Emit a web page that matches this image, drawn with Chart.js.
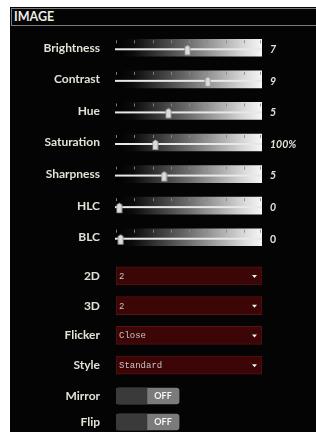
<!DOCTYPE html>
<html>
<head>
<meta charset="utf-8">
<script src="https://cdn.jsdelivr.net/npm/chart.js@4.4.0/dist/chart.umd.min.js"></script>
<style>
  html, body { margin: 0; padding: 0; background: #fff; overflow: hidden; }
  body { width: 316px; height: 432px; position: relative; }
  #panel { position: absolute; left: 10px; top: 7px; width: 306px; height: 425px; background: #040404; }
  #header {
    position: absolute; left: 11px; top: 8px; width: 320px; height: 18px; box-sizing: border-box;
    border: 1px solid #7c7c7c; color: #ecebe4; font: bold 12.5px Lato, sans-serif;
    line-height: 16px; padding-left: 2px;
  }
  canvas { position: absolute; left: 0; }
  #sliders { top: 27px; }
  #dropdowns { top: 261px; }
  #switches { top: 383px; }
</style>
</head>
<body>
<div id="panel"></div>
<div id="header">IMAGE</div>
<canvas id="sliders" width="316" height="231"></canvas>
<canvas id="dropdowns" width="316" height="119"></canvas>
<canvas id="switches" width="316" height="52"></canvas>
<script>
// slider rows
const sliderLabels = ['Brightness', 'Contrast', 'Hue', 'Saturation', 'Sharpness', 'HLC', 'BLC'];
const sliderLevels = [49, 63, 36, 27, 33, 2.3, 3.2];   // handle position, % of the slider range
const sliderValues = ['7', '9', '5', '100%', '5', '0', '0'];

// select boxes
const dropdownLabels = ['2D', '3D', 'Flicker', 'Style'];
const dropdownValues = ['2', '2', 'Close', 'Standard'];

// on/off switches
const switchLabels = ['Mirror', 'Flip'];
const switchStates = ['OFF', 'OFF'];

const LABEL_COLOR = '#e4e2d6';
const SWITCH_WIDTH = 43.2;
const SWITCH_KNOB = 21.2;

Chart.defaults.font.family = 'Lato';
Chart.defaults.animation = false;

// fixed axis widths so all three panels line up; no extra top/bottom room for labels
function fixWidth(w) {
    return function(scale) {
        scale.width = w;
        scale.paddingTop = 0;
        scale.paddingBottom = 0;
    };
}

function leftAxis() {
    return {
        type: 'category',
        position: 'left',
        offset: true,
        grid: { display: false, drawTicks: false },
        border: { display: false },
        ticks: {
            color: LABEL_COLOR,
            padding: 16,
            autoSkip: false,
            font: { family: 'Lato', size: 12, weight: 'bold' }
        },
        afterFit: fixWidth(116)
    };
}

const xAxis = { type: 'linear', display: false, min: 0, max: 100 };

function baseOptions(extraScales, rightPad) {
    return {
        indexAxis: 'y',
        responsive: false,
        devicePixelRatio: 1,
        events: [],
        layout: { padding: { left: 0, right: rightPad, top: 0, bottom: 0 } },
        plugins: { legend: { display: false }, tooltip: { enabled: false } },
        scales: Object.assign({ x: xAxis, y: leftAxis() }, extraScales)
    };
}

// slider handle picture
function makeHandle() {
    const c = document.createElement('canvas');
    c.width = 7;
    c.height = 17;
    const g = c.getContext('2d');
    g.fillStyle = '#8a8a8a';
    g.beginPath();
    g.moveTo(3.5, 5.5); g.lineTo(6.5, 7.5); g.lineTo(6.5, 16); g.lineTo(0.5, 16); g.lineTo(0.5, 7.5);
    g.closePath();
    g.fill();
    g.fillStyle = '#dcdcdc';
    g.beginPath();
    g.moveTo(3.5, 6.3); g.lineTo(5.6, 7.8); g.lineTo(5.6, 15.2); g.lineTo(1.2, 15.2); g.lineTo(1.2, 7.8);
    g.closePath();
    g.fill();
    return c;
}

function trackGradient(ctx) {
    const area = ctx.chart.chartArea;
    if (!area) return '#777';
    const g = ctx.chart.ctx.createLinearGradient(area.left, 0, area.right, 0);
    g.addColorStop(0, '#000000');
    g.addColorStop(0.12, '#0c0c0c');
    g.addColorStop(0.5, '#6e6e6e');
    g.addColorStop(0.88, '#dadada');
    g.addColorStop(1, '#f6f6f6');
    return g;
}

const sliderTrim = {
    id: 'sliderTrim',
    afterDatasetDraw(chart, args) {
        if (args.index !== 0) return;
        const ctx = chart.ctx;
        const xs = chart.scales.x;
        ctx.save();
        args.meta.data.forEach(function(bar) {
            const top = bar.y - bar.height / 2;
            ctx.fillStyle = '#e8e8e8';
            ctx.fillRect(bar.base - 1, bar.y + 0.5, bar.x - bar.base + 1, 2);
            ctx.fillStyle = 'rgba(135,135,135,0.9)';
            for (let v = 0; v <= 100; v += 12.5) {
                const px = Math.round(xs.getPixelForValue(v));
                ctx.fillRect(Math.min(px, bar.x - 2), top + 1, 1, 3);
            }
        });
        ctx.restore();
    }
};

new Chart(document.getElementById('sliders'), {
    type: 'bar',
    data: {
        labels: sliderLabels,
        datasets: [{
            type: 'bar',
            indexAxis: 'y',
            yAxisID: 'y',
            data: sliderLabels.map(function() { return [0, 100]; }),
            backgroundColor: trackGradient,
            barThickness: 17,
            grouped: false,
            borderSkipped: false,
            order: 2
        }, {
            type: 'line',
            indexAxis: 'y',
            yAxisID: 'y',
            data: sliderLevels,
            showLine: false,
            pointStyle: makeHandle(),
            pointRadius: 4,
            clip: false,
            order: 1
        }]
    },
    options: baseOptions({
        yValue: {
            type: 'category',
            labels: sliderValues,
            position: 'right',
            offset: true,
            grid: { display: false, drawTicks: false },
            border: { display: false },
            ticks: {
                color: LABEL_COLOR,
                padding: 8,
                labelOffset: 2,
                autoSkip: false,
                font: function(c) {
                    return { family: 'Lato', size: 10.5, weight: 'bold', style: c.index === 6 ? 'normal' : 'italic' };
                }
            },
            afterFit: fixWidth(54)
        }
    }, 0),
    plugins: [sliderTrim]
});

const dropdownText = {
    id: 'dropdownText',
    afterDatasetsDraw(chart) {
        const ctx = chart.ctx;
        ctx.save();
        chart.getDatasetMeta(0).data.forEach(function(bar, i) {
            ctx.font = '9px "Liberation Mono"';
            ctx.fillStyle = '#cbc4c4';
            ctx.textAlign = 'left';
            ctx.textBaseline = 'middle';
            ctx.fillText(dropdownValues[i], bar.base + 3, bar.y + 0.5);
            const ax = bar.x - 7.5;
            ctx.fillStyle = '#f2f2f2';
            ctx.beginPath();
            ctx.moveTo(ax - 2.5, bar.y - 1);
            ctx.lineTo(ax + 2.5, bar.y - 1);
            ctx.lineTo(ax, bar.y + 2);
            ctx.closePath();
            ctx.fill();
        });
        ctx.restore();
    }
};

new Chart(document.getElementById('dropdowns'), {
    type: 'bar',
    data: {
        labels: dropdownLabels,
        datasets: [{
            indexAxis: 'y',
            data: dropdownLabels.map(function() { return [0, 100]; }),
            backgroundColor: '#3c0606',
            borderColor: '#591111',
            borderWidth: 1,
            borderSkipped: false,
            barThickness: 18
        }]
    },
    options: baseOptions({}, 54),
    plugins: [dropdownText]
});

const switchText = {
    id: 'switchText',
    afterDatasetsDraw(chart) {
        const ctx = chart.ctx;
        const xs = chart.scales.x;
        const cx = (xs.getPixelForValue(SWITCH_KNOB) + xs.getPixelForValue(SWITCH_WIDTH)) / 2;
        ctx.save();
        chart.getDatasetMeta(0).data.forEach(function(bar, i) {
            ctx.font = 'bold 9px Lato';
            ctx.fillStyle = '#f5f5f5';
            ctx.textAlign = 'center';
            ctx.textBaseline = 'middle';
            ctx.fillText(switchStates[i], cx, bar.y + 0.5);
        });
        ctx.restore();
    }
};

new Chart(document.getElementById('switches'), {
    type: 'bar',
    data: {
        labels: switchLabels,
        datasets: [{
            indexAxis: 'y',
            data: switchLabels.map(function() { return [0, SWITCH_WIDTH]; }),
            backgroundColor: '#7b7b7b',
            borderRadius: 3,
            borderSkipped: false,
            barThickness: 16,
            grouped: false,
            order: 2
        }, {
            indexAxis: 'y',
            data: switchStates.map(function(s) { return s === 'OFF' ? [0, SWITCH_KNOB] : [SWITCH_KNOB, SWITCH_WIDTH]; }),
            backgroundColor: '#3a3a3a',
            borderRadius: { topLeft: 3, bottomLeft: 3, topRight: 0, bottomRight: 0 },
            borderSkipped: false,
            barThickness: 16,
            grouped: false,
            order: 1
        }]
    },
    options: baseOptions({}, 54),
    plugins: [switchText]
});
</script>
</body>
</html>
